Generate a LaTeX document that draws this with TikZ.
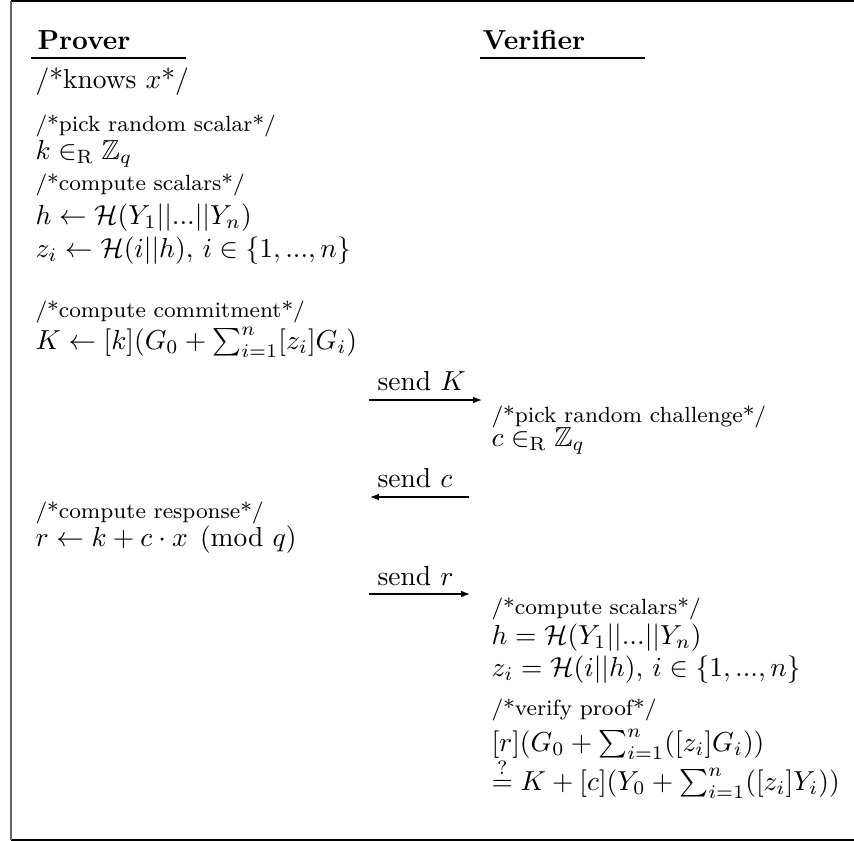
\documentclass[tikz,border=0pt]{standalone}
\usepackage{amsmath,amssymb}
\usetikzlibrary{arrows.meta}
\begin{document}
\begin{tikzpicture}[x=0.3636pt,y=-0.3636pt,
  txt/.style={anchor=base west,inner sep=0pt},
  cmt/.style={txt,font=\footnotesize},
  msgarrow/.style={-{Latex[length=3.2pt,width=2.4pt]},line width=0.4pt},
  frameline/.style={line width=0.45pt}]
\useasboundingbox (0,0) rectangle (854,841);
% frame
\draw[frameline] (856,1) -- (11,1);
\draw[frameline] (11,840) -- (856,840);
\draw[line width=0.7pt,black!60] (11,1) -- (11,840);
% headers
\node[txt,font=\bfseries] (prover) at (37,49) {Prover};
\node[txt,font=\bfseries] (verifier) at (482,49) {Verifier};
\coordinate (pl1) at (31,58); \coordinate (pl2) at (186,58);
\coordinate (vl1) at (480,58); \coordinate (vl2) at (645,58);
\draw[line width=0.4pt] (pl1) -- (pl2);
\draw[line width=0.4pt] (vl1) -- (vl2);
% prover side
\node[txt] (knows) at (35,88) {/*knows $x$*/};
\node[cmt] (c1) at (35,131) {/*pick random scalar*/};
\node[txt] (k) at (35,159) {$k \in_{\mathrm{R}} \mathbb{Z}_q$};
\node[cmt] (c2) at (35,190) {/*compute scalars*/};
\node[txt] (h) at (35,224) {$h \leftarrow \mathcal{H}(Y_1||...||Y_n)$};
\node[txt] (z) at (35,257) {$z_i \leftarrow \mathcal{H}(i||h),\, i \in \{1,...,n\}$};
\node[cmt] (c3) at (35,317) {/*compute commitment*/};
\node[txt] (K) at (35,349) {$K \leftarrow [k](G_0 + \sum_{i=1}^n [z_i]G_i)$};
% message K
\coordinate (a1s) at (369,400); \coordinate (a1e) at (482,400);
\draw[msgarrow] (a1s) -- (a1e);
\node[txt] (sendK) at (377,390) {send $K$};
% verifier
\node[cmt] (c4) at (491,422) {/*pick random challenge*/};
\node[txt] (c) at (491,446) {$c \in_{\mathrm{R}} \mathbb{Z}_q$};
% message c
\coordinate (a2s) at (469,497); \coordinate (a2e) at (370,497);
\draw[msgarrow] (a2s) -- (a2e);
\node[txt] (sendc) at (377,487) {send $c$};
% prover response
\node[cmt] (c5) at (35,518) {/*compute response*/};
\node[txt] (r) at (35,546) {$r \leftarrow k + c \cdot x \pmod q$};
% message r
\coordinate (a3s) at (369,594); \coordinate (a3e) at (470,594);
\draw[msgarrow] (a3s) -- (a3e);
\node[txt] (sendr) at (377,585) {send $r$};
% verifier checks
\node[cmt] (c6) at (491,614) {/*compute scalars*/};
\node[txt] (h2) at (491,644) {$h = \mathcal{H}(Y_1||...||Y_n)$};
\node[txt] (z2) at (491,676) {$z_i = \mathcal{H}(i||h),\, i \in \{1,...,n\}$};
\node[cmt] (c7) at (491,715) {/*verify proof*/};
\node[txt] (v1) at (491,751) {$[r](G_0 + \sum_{i=1}^n ([z_i]G_i))$};
\node[txt] (v2) at (491,790) {$\stackrel{?}{=} K + [c](Y_0 + \sum_{i=1}^n ([z_i]Y_i))$};
\end{tikzpicture}
\end{document}
